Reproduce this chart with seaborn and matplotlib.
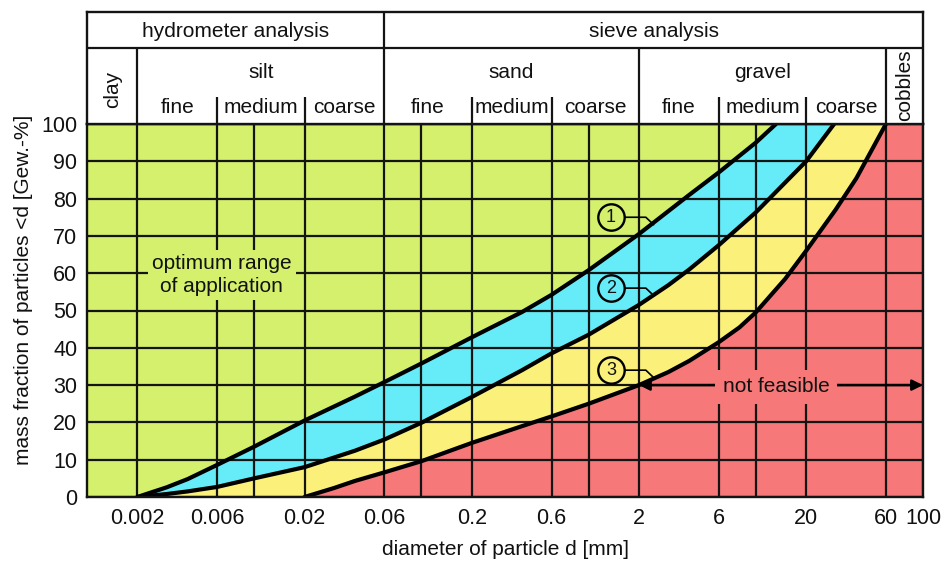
import matplotlib
matplotlib.use("Agg")
import matplotlib.pyplot as plt
import seaborn as sns
import pandas as pd

sns.set_theme(style="white")
plt.rcParams["font.family"] = ["Liberation Sans", "DejaVu Sans"]

# grading curves: particle diameter [mm] vs. mass fraction passing [%]
d1 = [0.002, 0.003, 0.004, 0.006, 0.01, 0.02, 0.04, 0.06, 0.1, 0.2, 0.4, 0.6, 1, 2, 4, 6, 10, 13.2]
p1 = [0, 2.6, 4.8, 8.6, 13.5, 20.5, 26.9, 30.8, 35.8, 42.8, 49.6, 54.2, 60.8, 70.5, 81, 87, 95, 100]

d2 = [0.002, 0.003, 0.004, 0.006, 0.01, 0.02, 0.04, 0.06, 0.1, 0.2, 0.4, 0.6, 1, 2, 3, 4, 6, 10, 20, 29.4]
p2 = [0, 0.8, 1.5, 2.7, 5, 8, 12.4, 15.4, 19.9, 26.8, 34.0, 38.5, 43.5, 51.5, 56.8, 61, 67.5, 76.3, 90, 100]

d3 = [0.02, 0.03, 0.04, 0.06, 0.1, 0.2, 0.4, 0.6, 1, 2, 3, 4, 6, 8, 10, 15, 20, 30, 40, 60]
p3 = [0, 2.4, 4.3, 6.6, 9.6, 14.5, 19, 21.6, 25, 30, 33.5, 36.5, 41.5, 45.5, 49.5, 58.5, 66, 77, 85.5, 100]

curve_names = ["1", "2", "3"]
label_y = [75, 56, 34]

x_ticks = [0.002, 0.006, 0.02, 0.06, 0.2, 0.6, 2, 6, 20, 60, 100]
x_tick_labels = ["0.002", "0.006", "0.02", "0.06", "0.2", "0.6", "2", "6", "20", "60", "100"]
x_minor = [0.01, 0.1, 1, 10]
y_ticks = list(range(0, 101, 10))

GREEN = "#d4f06c"
BLUE = "#66ecf8"
YELLOW = "#faf07a"
RED = "#f67878"
INK = "#141414"
TXT = "#111111"

W, H = 943, 561
fig = plt.figure(figsize=(W / 100, H / 100), dpi=100)
fig.patch.set_facecolor("white")

# main diagram
L, R, T, B = 87, 923, 124, 497
ax = fig.add_axes([L / W, (H - B) / H, (R - L) / W, (B - T) / H])
ax.set_xscale("log")
ax.set_xlim(0.001, 100)
ax.set_ylim(0, 100)
ax.set_facecolor(GREEN)

# coloured ranges between the curves
ax.fill(d1 + d2[::-1], p1 + p2[::-1], color=BLUE, lw=0, zorder=1)
ax.fill(d2 + d3[::-1], p2 + p3[::-1], color=YELLOW, lw=0, zorder=1)
ax.fill(d3 + [100, 100], p3 + [100, 0], color=RED, lw=0, zorder=1)

# curves
df = pd.concat([
    pd.DataFrame({"d": d, "p": p, "curve": n})
    for d, p, n in zip([d1, d2, d3], [p1, p2, p3], curve_names)
])
sns.lineplot(data=df, x="d", y="p", hue="curve", palette=["black"] * 3,
             estimator=None, sort=False, lw=3.0, legend=False, ax=ax, zorder=3)
for line in ax.lines:
    line.set_solid_joinstyle("round")

# grid
ax.set_xticks(x_ticks)
ax.set_xticklabels(x_tick_labels)
ax.set_xticks(x_minor, minor=True)
ax.set_xticklabels([""] * len(x_minor), minor=True)
ax.set_yticks(y_ticks)
ax.set_axisbelow(False)
ax.grid(True, which="both", axis="x", color=INK, lw=1.6)
ax.grid(True, which="major", axis="y", color=INK, lw=1.6)
ax.tick_params(which="both", length=0, labelsize=15.5, colors=TXT)
ax.tick_params(axis="y", pad=7)
ax.tick_params(axis="x", pad=8)
for s in ax.spines.values():
    s.set_visible(True)
    s.set_color(INK)
    s.set_linewidth(1.7)
    s.set_zorder(6)

ax.set_xlabel("diameter of particle d [mm]", fontsize=15, color=TXT)
ax.set_ylabel("mass fraction of particles <d [Gew.-%]", fontsize=15, color=TXT)
ax.xaxis.set_label_coords(0.5, -0.116)
ax.yaxis.set_label_coords(-0.065, 0.555)

# annotations
ax.text(0.0064, 59.5, "optimum range\nof application", ha="center", va="center",
        fontsize=15, linespacing=1.25, color=TXT, zorder=5,
        bbox=dict(boxstyle="square,pad=0.2", facecolor=GREEN, edgecolor="none"))

ax.annotate("", xy=(2, 30), xytext=(100, 30),
            arrowprops=dict(arrowstyle="<|-|>", color="black", lw=1.8,
                            mutation_scale=16, shrinkA=0, shrinkB=0), zorder=4)
ax.text(13.2, 29.5, "not feasible", ha="center", va="center", fontsize=15,
        color=TXT, zorder=5,
        bbox=dict(boxstyle="square,pad=0.35", facecolor=RED, edgecolor="none"))

for n, yy in zip(curve_names, label_y):
    ax.plot([1.36], [yy], marker="o", ms=19, mfc="none", mec="black", mew=1.7, zorder=5)
    ax.text(1.36, yy, n, ha="center", va="center", fontsize=13, color=TXT, zorder=5)
    ax.plot([1.66, 2.2, 2.45], [yy, yy, yy - 2], color="black", lw=1.2, zorder=5)

# classification header
axh = fig.add_axes([L / W, (H - T) / H, (R - L) / W, (T - 12) / H])
axh.set_xscale("log")
axh.set_xlim(0.001, 100)
axh.set_ylim(112, 0)
axh.set_facecolor("white")
axh.set_xticks([])
axh.set_yticks([])
axh.minorticks_off()
for s in axh.spines.values():
    s.set_visible(True)
    s.set_color(INK)
    s.set_linewidth(1.7)

hk = dict(color=INK, lw=1.6)
axh.hlines(36, 0.001, 100, **hk)
axh.vlines(0.06, 0, 112, **hk)
axh.vlines([0.002, 2, 60], 36, 112, **hk)
axh.vlines([0.006, 0.02, 0.2, 0.6, 6, 20], 85, 112, **hk)

tk = dict(fontsize=15, color=TXT, ha="center")
axh.text((0.001 * 0.06) ** 0.5, 25, "hydrometer analysis", va="baseline", **tk)
axh.text((0.06 * 100) ** 0.5, 25, "sieve analysis", va="baseline", **tk)
for lo, hi, name in [(0.002, 0.06, "silt"), (0.06, 2, "sand"), (2, 60, "gravel")]:
    axh.text((lo * hi) ** 0.5, 66, name, va="baseline", **tk)
sub_edges = [[0.002, 0.006, 0.02, 0.06], [0.06, 0.2, 0.6, 2], [2, 6, 20, 60]]
for edges in sub_edges:
    for lo, hi, name in zip(edges[:-1], edges[1:], ["fine", "medium", "coarse"]):
        axh.text((lo * hi) ** 0.5, 101, name, va="baseline", **tk)
axh.text((0.001 * 0.002) ** 0.5, 77, "clay", va="center", rotation=90, **tk)
axh.text((60 * 100) ** 0.5, 73, "cobbles", va="center", rotation=90, **tk)

fig.savefig("out.png", dpi=100, facecolor="white")
